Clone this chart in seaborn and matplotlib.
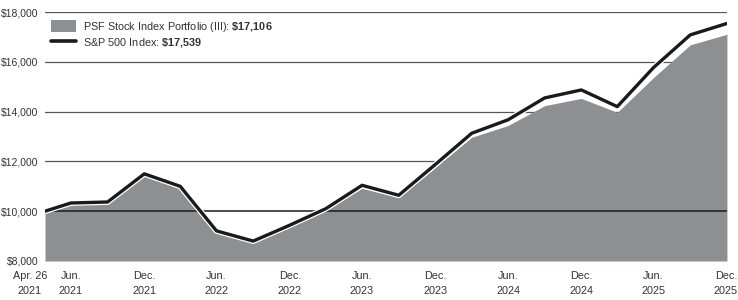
import matplotlib
matplotlib.use("Agg")
import matplotlib.pyplot as plt
import matplotlib.patheffects as pe
import matplotlib.transforms as mtransforms
from matplotlib.patches import Patch
from matplotlib.lines import Line2D
import seaborn as sns
import pandas as pd

dates = ["2021-04-26", "2021-06-30", "2021-09-30", "2021-12-31", "2022-03-31",
         "2022-06-30", "2022-09-30", "2022-12-31", "2023-03-31", "2023-06-30",
         "2023-09-30", "2023-12-31", "2024-03-31", "2024-06-30", "2024-09-30",
         "2024-12-31", "2025-03-31", "2025-06-30", "2025-09-30", "2025-12-31"]
portfolio = [10000, 10320, 10360, 11480, 10980, 9200, 8780, 9420, 10060, 10920,
             10560, 11760, 12970, 13440, 14240, 14530, 13970, 15370, 16680, 17106]
sp500 = [10000, 10330, 10370, 11500, 11000, 9210, 8800, 9440, 10100, 11040,
         10640, 11880, 13130, 13670, 14550, 14870, 14200, 15770, 17080, 17539]
tick_dates = ["2021-04-26", "2021-06-30", "2021-12-31", "2022-06-30", "2022-12-31",
              "2023-06-30", "2023-12-31", "2024-06-30", "2024-12-31", "2025-06-30",
              "2025-12-31"]
tick_labels = ["Apr. 26\n2021", "Jun.\n2021", "Dec.\n2021", "Jun.\n2022", "Dec.\n2022",
               "Jun.\n2023", "Dec.\n2023", "Jun.\n2024", "Dec.\n2024", "Jun.\n2025",
               "Dec.\n2025"]
y_ticks = [8000, 10000, 12000, 14000, 16000, 18000]
portfolio_name = "PSF Stock Index Portfolio (III): "
portfolio_value = "$17,106"
sp500_name = "S&P 500 Index: "
sp500_value = "$17,539"

sns.set_theme(style="white")
base = "Liberation Sans"
plt.rcParams["font.family"] = [base, "DejaVu Sans"]
plt.rcParams["mathtext.fontset"] = "custom"
plt.rcParams["mathtext.rm"] = base
plt.rcParams["mathtext.bf"] = base + ":bold"

def bold_math(s):
    return r"$\mathbf{" + s.replace("$", r"\$").replace(",", "{,}") + "}$"

portfolio_label = portfolio_name + bold_math(portfolio_value)
sp500_label = sp500_name + bold_math(sp500_value)

df = pd.DataFrame({"date": pd.to_datetime(dates), "portfolio": portfolio, "sp500": sp500})

fig = plt.figure(figsize=(7.38, 3.0), dpi=100)
ax = fig.add_axes([0.061, 0.13, 0.924, 0.83])

fill_color = "#8e8f93"
text_color = "#333333"

for yv in y_ticks:
    if yv in (8000, 10000):
        continue
    ax.axhline(yv, color="#555555", lw=0.9, zorder=0)

ax.fill_between(df["date"], 8000, df["portfolio"], color=fill_color, lw=0, zorder=1)
ax.axhline(10000, color="#1a1a1a", lw=1.1, zorder=2)

sns.lineplot(data=df, x="date", y="sp500", ax=ax, color="#1a1a1a", lw=2.4,
             zorder=3,
             path_effects=[pe.Stroke(linewidth=4.2, foreground="white"), pe.Normal()])

ax.set_ylim(8000, 18000)
ax.set_xlim(pd.Timestamp(dates[0]), pd.Timestamp(dates[-1]))
ax.set_yticks(y_ticks)
ax.set_yticklabels([f"${v:,.0f}" for v in y_ticks])
ax.set_xticks(pd.to_datetime(tick_dates))
ax.set_xticklabels(tick_labels, linespacing=1.6)
ax.tick_params(axis="both", length=0, colors=text_color)
ax.tick_params(axis="x", pad=7, labelsize=7.8)
ax.tick_params(axis="y", pad=4.5, labelsize=7.5)
ax.set_xlabel("")
ax.set_ylabel("")
for s in ax.spines.values():
    s.set_visible(False)

first = ax.get_xticklabels()[0]
first.set_transform(first.get_transform() +
                    mtransforms.ScaledTranslation(-15 / 100, 0, fig.dpi_scale_trans))
last = ax.get_xticklabels()[-1]
last.set_transform(last.get_transform() +
                   mtransforms.ScaledTranslation(-1 / 100, 0, fig.dpi_scale_trans))

handles = [Patch(facecolor=fill_color, edgecolor="none"),
           Line2D([0], [0], color="#1a1a1a", lw=2.6)]
leg = ax.legend(handles, [portfolio_label, sp500_label], loc="upper left",
                bbox_to_anchor=(-0.002, 1.0), frameon=False, fontsize=7.8,
                handlelength=2.3, handleheight=1.3, handletextpad=0.6,
                labelspacing=0.25, labelcolor=text_color, borderaxespad=0.3)

fig.savefig("out.png", dpi=100)
